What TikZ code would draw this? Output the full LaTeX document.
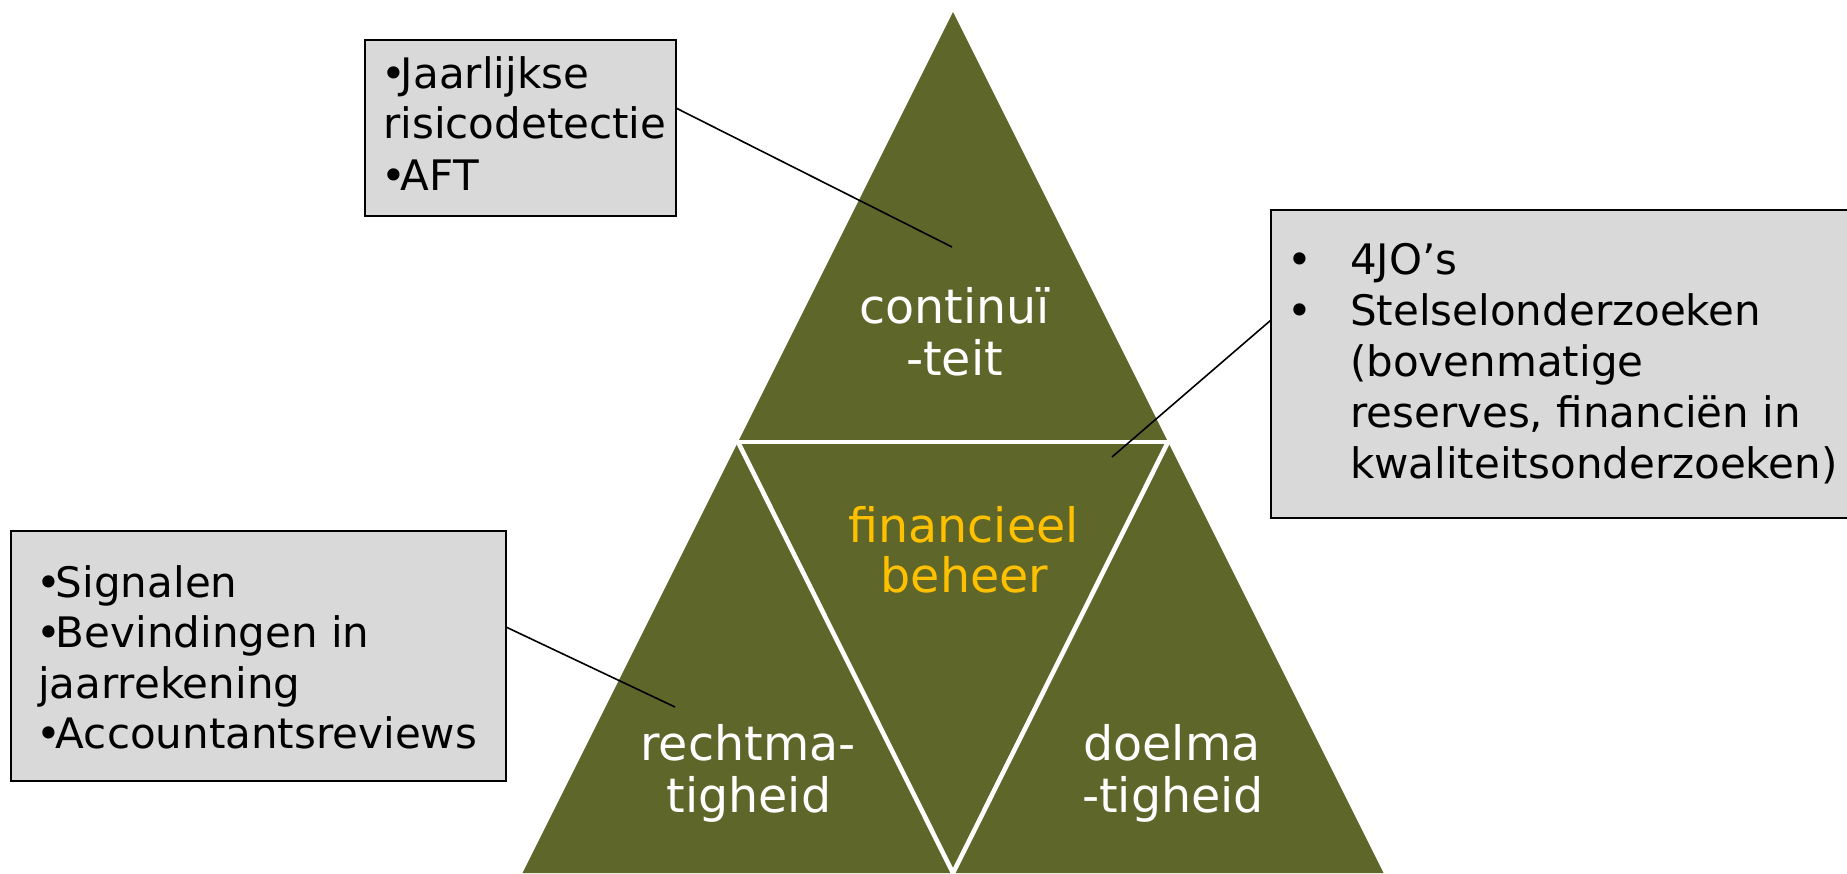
\documentclass[tikz,border=0pt]{standalone}
\usepackage{fontspec}
\setmainfont{DejaVu Sans}
\definecolor{olivetri}{RGB}{95,102,41}
\definecolor{boxgray}{RGB}{217,217,217}
\definecolor{goldtxt}{RGB}{255,192,0}
\newcommand{\tightbullet}{•\kern-5pt}
\begin{document}
\begin{tikzpicture}[x=1pt,y=-1pt,
  infobox/.style={draw=black, line width=1.8pt, fill=boxgray, rectangle, anchor=north west, inner sep=0pt, outer sep=0pt},
  boxtext/.style={anchor=base west, inner sep=0pt, font=\fontsize{42}{51}\selectfont, text=black},
  tritext/.style={anchor=base, inner sep=0pt, font=\fontsize{47.5}{52}\selectfont, text=white},
  midtext/.style={tritext, text=goldtxt},
  conn/.style={draw=black, line width=1.6pt},
  sep/.style={draw=white, line width=4.6pt}]
\useasboundingbox (0,0) rectangle (1847,873);
\begin{scope}
\clip (0,0) rectangle (1847,873);
% triangle
\fill[olivetri] (953,12) -- (522.5,873) -- (1383.5,873) -- cycle;
\coordinate (ml) at (738,442);
\coordinate (mr) at (1168,442);
\coordinate (mb) at (953,873);
\draw[sep] (ml) -- (mr);
\draw[sep] (ml) -- (mb) -- (mr);
% triangle labels
\node[tritext] (cont1) at (954.5,323) {continuï};
\node[tritext] (cont2) at (954.5,375) {-teit};
\node[midtext] (fin1) at (963.5,542) {financieel};
\node[midtext] (fin2) at (964.5,592) {beheer};
\node[tritext] (recht1) at (748,760) {rechtma-};
\node[tritext] (recht2) at (749,812) {tigheid};
\node[tritext] (doel1) at (1172,760) {doelma};
\node[tritext] (doel2) at (1173,812) {-tigheid};
% anchor points inside triangles
\coordinate (pc) at (952,247);
\coordinate (pf) at (1112,457);
\coordinate (pr) at (675,707);
% boxes
\node[infobox, minimum width=311pt, minimum height=176pt] (box1) at (365,40) {};
\node[infobox, minimum width=600pt, minimum height=308pt] (box2) at (1271,210) {};
\node[infobox, minimum width=495pt, minimum height=250pt] (box3) at (11,531) {};
% connectors
\draw[conn] ([yshift=20pt]box1.east) -- (pc);
\draw[conn] ([yshift=44pt]box2.west) -- (pf);
\draw[conn] ([yshift=29pt]box3.east) -- (pr);
% box 1 text
\node[boxtext] (b1l1) at (381,88) {\tightbullet Jaarlijkse};
\node[boxtext] (b1l2) at (383,138) {risicodetectie};
\node[boxtext] (b1l3) at (381,190) {\tightbullet AFT};
% box 2 text
\node[boxtext] (b2d1) at (1287,274) {•};
\node[boxtext] (b2l1) at (1350,274) {4JO’s};
\node[boxtext] (b2d2) at (1287,325) {•};
\node[boxtext] (b2l2) at (1350,325) {Stelselonderzoeken};
\node[boxtext] (b2l3) at (1350,376) {(bovenmatige};
\node[boxtext] (b2l4) at (1350,427) {reserves, financiën in};
\node[boxtext] (b2l5) at (1350,478) {kwaliteitsonderzoeken)};
% box 3 text
\node[boxtext] (b3l1) at (36,597) {\tightbullet Signalen};
\node[boxtext] (b3l2) at (36,647) {\tightbullet Bevindingen in};
\node[boxtext] (b3l3) at (38,698) {jaarrekening};
\node[boxtext] (b3l4) at (36,748) {\tightbullet Accountantsreviews};
\end{scope}
\end{tikzpicture}
\end{document}
